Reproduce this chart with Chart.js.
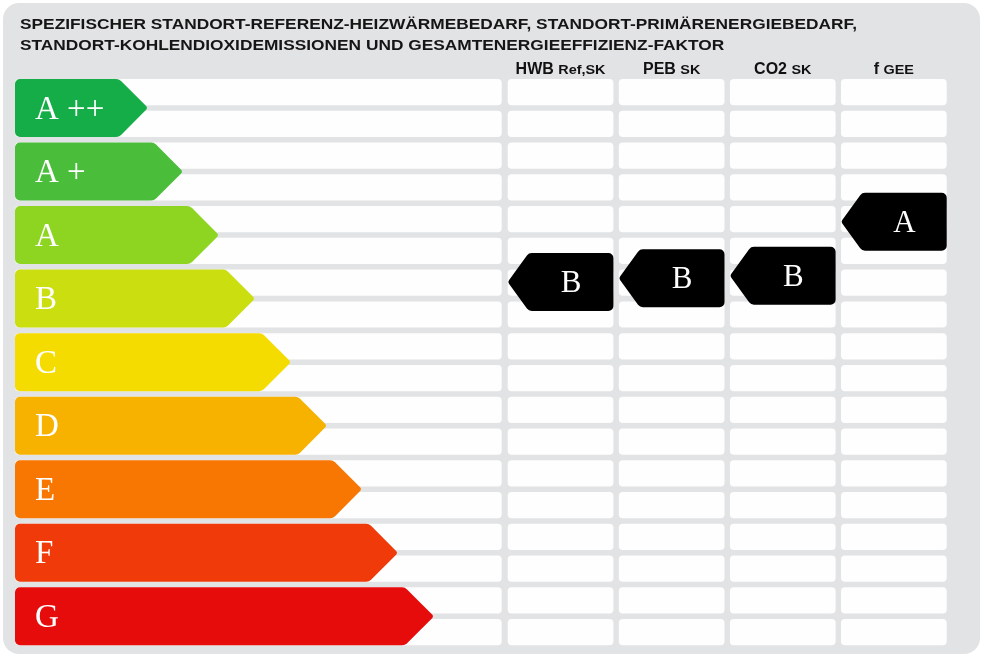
<!DOCTYPE html>
<html><head><meta charset="utf-8">
<script src="https://cdn.jsdelivr.net/npm/chart.js@4.4.1/dist/chart.umd.min.js"></script>
<style>html,body{margin:0;padding:0;background:#ffffff;}#wrap{width:982px;height:655px;position:relative;}</style>
</head><body><div id="wrap"><canvas id="c" width="982" height="655"></canvas></div>
<script>
// ---- data ----
const titleLines = [
  'SPEZIFISCHER STANDORT-REFERENZ-HEIZWÄRMEBEDARF, STANDORT-PRIMÄRENERGIEBEDARF,',
  'STANDORT-KOHLENDIOXIDEMISSIONEN UND GESAMTENERGIEEFFIZIENZ-FAKTOR'
];
const classLabels = ['A ++', 'A +', 'A', 'B', 'C', 'D', 'E', 'F', 'G'];
const classLengths = [133, 168, 204, 240, 276, 312, 347, 383, 419];
const classColors = ['#15ad48', '#4abd3a', '#8ed522', '#cade10', '#f5dc00', '#f7b200', '#f77702', '#f13a0a', '#e60c0c'];
const columnNames = ['HWB', 'PEB', 'CO2', 'f'];
const columnSubs = ['Ref,SK', 'SK', 'SK', 'GEE'];
const ratingPositions = [2.74, 2.68, 2.64, 1.79];
const ratingLetters = ['B', 'B', 'B', 'A'];

// ---- layout constants (not data) ----
const X_MAX = 932;
const LEFT_AREA_END = 486.7;
const COL_START = 492.7, COL_PITCH = 111.1, COL_WIDTH = 105.7;
const HALF = 0.4564;          // half class height in category units
const STRIPE_GAP = 0.0436;    // half gap in category units
const TITLE_WIDTH = 837;      // rendered width of the first title line
const SUB_STRETCH = 1.2;      // horizontal stretch of small header text

function rrect(ctx, x0, y0, x1, y1, r) {
  ctx.beginPath();
  ctx.moveTo(x0 + r, y0);
  ctx.arcTo(x1, y0, x1, y1, r);
  ctx.arcTo(x1, y1, x0, y1, r);
  ctx.arcTo(x0, y1, x0, y0, r);
  ctx.arcTo(x0, y0, x1, y0, r);
  ctx.closePath();
}

function stretchedText(ctx, text, x, y, sx) {
  ctx.save();
  ctx.translate(x, y);
  ctx.scale(sx, 1);
  ctx.fillText(text, 0, 0);
  ctx.restore();
}

const labelPlugin = {
  id: 'label',
  beforeDraw(chart) {
    const ctx = chart.ctx;
    const xs = chart.scales.x, ys = chart.scales.y;
    ctx.save();
    ctx.fillStyle = '#ffffff';
    ctx.fillRect(0, 0, chart.width, chart.height);
    // panel
    ctx.fillStyle = '#e2e3e5';
    rrect(ctx, 3, 3, 980, 654, 16);
    ctx.fill();
    // title
    ctx.fillStyle = '#151515';
    ctx.font = 'bold 14.6px "Liberation Sans", Arial, sans-serif';
    ctx.textBaseline = 'alphabetic';
    ctx.textAlign = 'left';
    const tsx = TITLE_WIDTH / ctx.measureText(titleLines[0]).width;
    stretchedText(ctx, titleLines[0], 20, 28.8, tsx);
    stretchedText(ctx, titleLines[1], 20, 50.3, tsx);
    // stripes
    ctx.fillStyle = '#fefefe';
    const cols = [[0, LEFT_AREA_END]];
    for (let k = 0; k < columnNames.length; k++) cols.push([COL_START + k * COL_PITCH, COL_START + k * COL_PITCH + COL_WIDTH]);
    classLabels.forEach((_, i) => {
      const bands = [[i - HALF, i - STRIPE_GAP], [i + STRIPE_GAP, i + HALF]];
      bands.forEach(b => {
        const t = ys.getPixelForValue(b[0]), bt = ys.getPixelForValue(b[1]);
        cols.forEach(c => {
          rrect(ctx, xs.getPixelForValue(c[0]), t, xs.getPixelForValue(c[1]), bt, 4);
          ctx.fill();
        });
      });
    });
    // column headers
    ctx.fillStyle = '#111111';
    const bigFont = 'bold 16px "Liberation Sans", Arial, sans-serif';
    const smallFont = 'bold 12px "Liberation Sans", Arial, sans-serif';
    columnNames.forEach((n, k) => {
      const cx = xs.getPixelForValue(COL_START + k * COL_PITCH + COL_WIDTH / 2);
      ctx.font = bigFont;
      const w1 = ctx.measureText(n + ' ').width;
      ctx.font = smallFont;
      const w2 = ctx.measureText(columnSubs[k]).width * SUB_STRETCH;
      const x = cx - (w1 + w2) / 2;
      ctx.font = bigFont;
      ctx.fillText(n, x, 74);
      ctx.font = smallFont;
      stretchedText(ctx, columnSubs[k], x + w1, 74, SUB_STRETCH);
    });
    ctx.restore();
  },
  beforeDatasetDraw(chart, args) {
    if (args.index === 0) return false;
  },
  afterDatasetsDraw(chart) {
    const ctx = chart.ctx;
    const xs = chart.scales.x, ys = chart.scales.y;
    const meta = chart.getDatasetMeta(0);
    ctx.save();
    meta.data.forEach((el, i) => {
      const p = el.getProps(['x', 'y', 'base', 'height'], true);
      const top = p.y - p.height / 2, bot = p.y + p.height / 2;
      const d = p.height / 2;
      ctx.beginPath();
      ctx.moveTo(p.base + 5, top);
      ctx.arcTo(p.x - d, top, p.x, p.y, 7);
      ctx.arcTo(p.x, p.y, p.x - d, bot, 3);
      ctx.arcTo(p.x - d, bot, p.base, bot, 7);
      ctx.arcTo(p.base, bot, p.base, top, 5);
      ctx.arcTo(p.base, top, p.x, top, 5);
      ctx.closePath();
      ctx.fillStyle = classColors[i];
      ctx.fill();
      ctx.fillStyle = '#ffffff';
      ctx.font = '33px "Liberation Serif", "Times New Roman", serif';
      ctx.textAlign = 'left';
      ctx.textBaseline = 'middle';
      ctx.fillText(classLabels[i], p.base + 20, p.y + 2);
    });
    // rating markers
    ratingPositions.forEach((pos, k) => {
      const x0 = xs.getPixelForValue(COL_START + k * COL_PITCH);
      const x1 = xs.getPixelForValue(COL_START + k * COL_PITCH + COL_WIDTH);
      const cy = ys.getPixelForValue(pos);
      const top = ys.getPixelForValue(pos - HALF), bot = ys.getPixelForValue(pos + HALF);
      const d = 21;
      ctx.beginPath();
      ctx.moveTo(x1 - 5, top);
      ctx.arcTo(x0 + d, top, x0, cy, 6);
      ctx.arcTo(x0, cy, x0 + d, bot, 3);
      ctx.arcTo(x0 + d, bot, x1, bot, 6);
      ctx.arcTo(x1, bot, x1, top, 5);
      ctx.arcTo(x1, top, x0, top, 5);
      ctx.closePath();
      ctx.fillStyle = '#000000';
      ctx.fill();
      ctx.fillStyle = '#ffffff';
      ctx.font = '31px "Liberation Serif", "Times New Roman", serif';
      ctx.textAlign = 'center';
      ctx.textBaseline = 'middle';
      ctx.fillText(ratingLetters[k], (x0 + d + x1) / 2, cy + 2);
    });
    ctx.restore();
  }
};

new Chart(document.getElementById('c'), {
  type: 'bar',
  data: {
    labels: classLabels,
    datasets: [{
      label: 'Klassen',
      data: classLengths,
      backgroundColor: classColors,
      categoryPercentage: 1,
      barPercentage: 0.9128
    }]
  },
  options: {
    indexAxis: 'y',
    responsive: false,
    animation: false,
    layout: { padding: { left: 15, right: 35, top: 76.2, bottom: 6.9 } },
    plugins: { legend: { display: false }, title: { display: false }, tooltip: { enabled: false } },
    scales: {
      x: { type: 'linear', min: 0, max: X_MAX, display: false },
      y: { type: 'category', display: false, offset: true }
    }
  },
  plugins: [labelPlugin]
});
</script>
</body></html>
